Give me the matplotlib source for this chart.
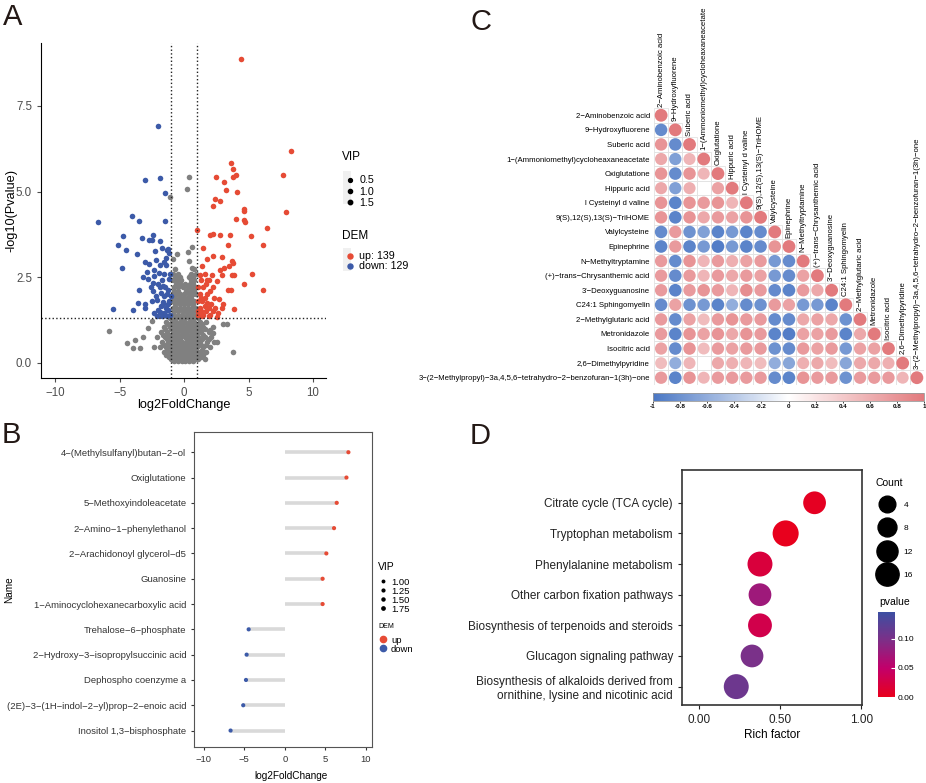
import matplotlib
matplotlib.use('Agg')
import matplotlib.pyplot as plt
import numpy as np
from matplotlib.colors import LinearSegmentedColormap, Normalize
from matplotlib.lines import Line2D
from matplotlib.patches import Rectangle
import matplotlib.cm as cm

plt.rcParams['font.family'] = ['Liberation Sans', 'DejaVu Sans']

W, H = 926, 783
RED = '#E64B35'
BLUE = '#3C5AA8'
GREY = '#808080'

# ---------------- A: volcano data (log2FC, -log10 p) ----------------
up_pts = [
    (4.43, 8.87), (8.27, 6.19), (7.63, 5.49), (7.86, 4.40), (6.39, 3.92), (6.13, 3.44), (5.25, 2.58),
    (6.13, 2.13), (5.15, 3.70), (3.65, 5.84), (3.81, 5.65), (4.01, 5.48), (3.81, 5.43), (2.46, 5.41),
    (3.06, 5.29), (3.21, 5.03), (4.12, 4.98), (2.39, 4.77), (2.75, 4.71), (2.21, 4.58), (4.63, 4.50),
    (4.63, 4.42), (4.04, 4.21), (4.63, 4.17), (4.71, 4.10), (1.00, 3.87), (2.03, 3.73), (2.26, 3.76),
    (2.75, 3.72), (3.52, 3.72), (3.42, 3.43), (1.46, 3.35), (4.63, 2.31), (2.93, 3.10), (2.26, 3.12),
    (1.74, 3.04), (3.73, 2.98), (3.81, 2.90), (3.45, 2.83), (3.08, 2.76), (2.75, 2.71), (3.89, 2.55),
    (3.68, 2.55), (2.95, 2.55), (2.15, 2.57), (1.38, 2.81), (1.20, 2.55), (2.52, 2.39), (1.74, 2.42),
    (3.39, 2.11), (3.63, 2.11), (2.70, 1.85), (3.03, 1.70), (3.83, 1.58), (2.52, 1.34),
    (1.10, 1.40), (1.20, 1.60), (1.30, 1.50), (1.40, 1.80), (1.50, 1.40), (1.60, 1.90), (1.70, 1.50),
    (1.80, 2.00), (1.90, 1.60), (2.00, 1.40), (2.10, 1.70), (2.20, 1.50), (1.20, 2.00), (1.30, 1.90),
    (1.50, 2.20), (1.70, 2.30), (2.30, 1.90), (1.10, 1.80), (1.40, 1.35), (1.90, 1.35), (2.40, 1.60),
    (1.60, 1.65), (1.05, 1.50), (1.80, 1.75), (2.00, 2.10), (1.30, 2.40), (1.60, 2.60), (1.90, 2.40),
    (2.60, 1.45), (2.90, 1.60), (1.05, 2.20), (2.20, 2.20),
]
down_pts = [
    (-2.00, 6.91), (-1.87, 5.40), (-3.03, 5.33), (-1.51, 4.95), (-4.06, 4.29), (-6.65, 4.10),
    (-3.47, 4.14), (-1.46, 4.13), (-4.71, 3.69), (-5.12, 3.45), (-4.48, 3.29), (-3.65, 3.18),
    (-3.24, 3.63), (-4.79, 2.77), (-5.54, 1.58), (-3.94, 1.54), (-3.57, 1.75), (-3.47, 2.11),
    (-3.01, 1.71), (-3.01, 1.60), (-2.41, 3.73), (-2.70, 3.58), (-2.52, 3.58), (-1.87, 3.56),
    (-1.23, 3.31), (-1.72, 3.34), (-2.26, 3.27), (-3.06, 2.93), (-2.72, 2.87), (-2.15, 2.99),
    (-1.43, 3.05), (-3.19, 2.51), (-2.90, 2.64), (-2.31, 2.54), (-1.95, 2.61), (-1.54, 2.58),
    (-2.44, 2.32), (-2.03, 2.31), (-1.61, 2.24), (-1.28, 2.12), (-2.41, 2.09), (-1.79, 2.03),
    (-2.52, 1.80), (-2.10, 1.83), (-1.64, 1.78), (-1.28, 1.72), (-2.34, 1.44), (-1.87, 1.49),
    (-1.51, 1.39), (-1.23, 1.54),
    (-1.10, 1.40), (-1.20, 1.80), (-1.30, 2.00), (-1.40, 1.60), (-1.50, 2.20), (-1.60, 1.45),
    (-1.70, 2.40), (-1.80, 1.65), (-1.90, 2.20), (-2.00, 1.55), (-2.20, 1.95), (-2.30, 2.70),
    (-1.10, 2.60), (-1.20, 2.45), (-1.40, 2.85), (-1.60, 2.95), (-1.05, 1.95), (-1.35, 1.35),
    (-1.75, 1.35), (-2.10, 1.35), (-1.15, 3.20), (-1.30, 3.30), (-2.60, 2.20), (-2.80, 2.45),
    (-1.90, 2.85), (-1.55, 1.95), (-1.25, 1.55), (-1.65, 1.70),
]
ns_pts = [
    (0.40, 5.42), (0.19, 5.08), (-1.07, 4.83), (0.61, 3.39), (0.27, 3.24), (-0.58, 3.18), (-0.89, 3.04),
    (0.40, 2.97), (0.61, 2.76), (0.48, 2.53), (0.71, 2.43), (-5.85, 0.91), (-4.45, 0.58), (-3.81, 0.66),
    (-3.94, 0.42), (-3.42, 0.42), (-2.80, 1.00), (-2.52, 1.23), (-2.36, 0.47), (-2.13, 0.76), (3.78, 0.32),
    (2.98, 1.13), (3.29, 1.13), (2.52, 0.61), (1.64, 0.11), (2.00, 0.95), (2.26, 0.86), (-3.16, 0.74),
    (-0.8, 0.05), (-0.5, 0.05), (-0.2, 0.05), (0.1, 0.05), (0.4, 0.05), (0.7, 0.05),
    (-1.2, 0.15), (-0.9, 0.15), (-0.6, 0.15), (-0.3, 0.15), (0.0, 0.15), (0.3, 0.15), (0.6, 0.15), (0.9, 0.15), (1.3, 0.15),
    (-1.6, 0.3), (-1.1, 0.3), (-0.7, 0.3), (-0.4, 0.3), (-0.1, 0.3), (0.2, 0.3), (0.5, 0.3), (0.8, 0.3), (1.2, 0.3), (1.7, 0.3),
    (-1.9, 0.45), (-1.4, 0.45), (-1.0, 0.45), (-0.6, 0.45), (-0.3, 0.45), (0.0, 0.45), (0.35, 0.45), (0.7, 0.45), (1.0, 0.45), (1.5, 0.45), (2.0, 0.45),
    (-1.7, 0.6), (-1.25, 0.6), (-0.85, 0.6), (-0.5, 0.6), (-0.15, 0.6), (0.15, 0.6), (0.5, 0.6), (0.85, 0.6), (1.25, 0.6), (1.8, 0.6), (2.3, 0.6),
    (-1.5, 0.75), (-1.05, 0.75), (-0.7, 0.75), (-0.35, 0.75), (0.05, 0.75), (0.4, 0.75), (0.75, 0.75), (1.1, 0.75), (1.6, 0.75), (2.1, 0.75),
    (-1.8, 0.9), (-1.3, 0.9), (-0.9, 0.9), (-0.55, 0.9), (-0.2, 0.9), (0.15, 0.9), (0.55, 0.9), (0.9, 0.9), (1.3, 0.9), (1.9, 0.9),
    (-1.6, 1.05), (-1.1, 1.05), (-0.75, 1.05), (-0.4, 1.05), (-0.05, 1.05), (0.3, 1.05), (0.65, 1.05), (1.05, 1.05), (1.5, 1.05), (2.2, 1.05),
    (-1.4, 1.2), (-0.95, 1.2), (-0.6, 1.2), (-0.25, 1.2), (0.1, 1.2), (0.45, 1.2), (0.8, 1.2), (1.2, 1.2), (1.7, 1.2),
    (-0.85, 1.4), (-0.5, 1.4), (-0.15, 1.4), (0.2, 1.4), (0.55, 1.4), (0.85, 1.4),
    (-0.9, 1.6), (-0.6, 1.6), (-0.3, 1.6), (0.0, 1.6), (0.3, 1.6), (0.6, 1.6), (0.9, 1.6),
    (-0.85, 1.8), (-0.5, 1.8), (-0.2, 1.8), (0.15, 1.8), (0.45, 1.8), (0.8, 1.8),
    (-0.9, 2.0), (-0.6, 2.0), (-0.3, 2.0), (0.0, 2.0), (0.35, 2.0), (0.7, 2.0), (0.9, 2.0),
    (-0.8, 2.2), (-0.45, 2.2), (-0.1, 2.2), (0.3, 2.2), (0.6, 2.2), (0.85, 2.2),
    (-0.9, 2.4), (-0.55, 2.4), (-0.25, 2.4), (0.5, 2.4), (0.8, 2.4),
    (-0.85, 2.6), (-0.5, 2.6), (0.55, 2.6), (0.9, 2.6), (-0.7, 2.75), (0.75, 2.75),
    (-1.0, 0.1), (-0.65, 0.1), (-0.35, 0.1), (-0.05, 0.1), (0.25, 0.1), (0.55, 0.1), (0.85, 0.1), (1.1, 0.1),
    (-1.4, 0.22), (-1.0, 0.22), (-0.75, 0.22), (-0.45, 0.22), (-0.15, 0.22), (0.15, 0.22), (0.45, 0.22), (0.7, 0.22), (1.0, 0.22), (1.5, 0.22),
    (-1.3, 0.38), (-0.85, 0.38), (-0.55, 0.38), (-0.25, 0.38), (0.05, 0.38), (0.35, 0.38), (0.65, 0.38), (0.95, 0.38), (1.4, 0.38),
    (-1.55, 0.52), (-1.15, 0.52), (-0.8, 0.52), (-0.45, 0.52), (-0.1, 0.52), (0.2, 0.52), (0.55, 0.52), (0.9, 0.52), (1.3, 0.52), (1.7, 0.52),
    (-1.35, 0.68), (-0.95, 0.68), (-0.6, 0.68), (-0.3, 0.68), (0.3, 0.68), (0.6, 0.68), (0.95, 0.68), (1.4, 0.68), (1.95, 0.68),
    (-1.65, 0.82), (-1.2, 0.82), (-0.8, 0.82), (-0.5, 0.82), (-0.1, 0.82), (0.25, 0.82), (0.6, 0.82), (1.0, 0.82), (1.45, 0.82),
    (-1.45, 0.98), (-1.0, 0.98), (-0.65, 0.98), (-0.35, 0.98), (0.0, 0.98), (0.4, 0.98), (0.75, 0.98), (1.15, 0.98), (1.65, 0.98),
    (-1.25, 1.12), (-0.85, 1.12), (-0.5, 1.12), (-0.15, 1.12), (0.2, 1.12), (0.55, 1.12), (0.9, 1.12), (1.35, 1.12),
    (-1.1, 1.3), (-0.7, 1.3), (-0.35, 1.3), (0.0, 1.3), (0.35, 1.3), (0.7, 1.3), (1.05, 1.3),
    (-0.75, 1.5), (-0.45, 1.5), (-0.1, 1.5), (0.15, 1.5), (0.45, 1.5), (0.75, 1.5),
    (-0.7, 1.7), (-0.35, 1.7), (0.0, 1.7), (0.3, 1.7), (0.65, 1.7),
    (-0.75, 1.9), (-0.4, 1.9), (-0.05, 1.9), (0.25, 1.9), (0.55, 1.9),
    (-0.75, 2.1), (-0.45, 2.1), (0.15, 2.1), (0.5, 2.1), (0.8, 2.1),
    (-0.65, 2.3), (-0.3, 2.3), (0.1, 2.3), (0.45, 2.3), (0.7, 2.3),
    (-0.7, 2.5), (-0.35, 2.5), (0.35, 2.5), (0.7, 2.5),
]

# ---------------- B: top metabolites ----------------
b_names = ['4−(Methylsulfanyl)butan−2−ol', 'Oxiglutatione', '5−Methoxyindoleacetate',
           '2−Amino−1−phenylethanol', '2−Arachidonoyl glycerol−d5', 'Guanosine',
           '1−Aminocyclohexanecarboxylic acid', 'Trehalose−6−phosphate',
           '2−Hydroxy−3−isopropylsuccinic acid', 'Dephospho coenzyme a',
           '(2E)−3−(1H−indol−2−yl)prop−2−enoic acid', 'Inositol 1,3−bisphosphate']
b_fc = [7.84, 7.60, 6.40, 6.07, 5.12, 4.66, 4.66, -4.46, -4.71, -4.79, -5.13, -6.69]

# ---------------- C: correlation matrix ----------------
c_names = ['2−Aminobenzoic acid', '9−Hydroxyfluorene', 'Suberic acid',
           '1−(Ammoniomethyl)cycloheaxaneacetate', 'Oxiglutatione', 'Hippuric acid',
           'l Cysteinyl d valine', '9(S),12(S),13(S)−TriHOME', 'Valylcysteine', 'Epinephrine',
           'N−Methyltryptamine', '(+)−trans−Chrysanthemic acid', "3'−Deoxyguanosine",
           'C24:1 Sphingomyelin', '2−Methylglutaric acid', 'Metronidazole', 'Isocitric acid',
           '2,6−Dimethylpyridine',
           '3−(2−Methylpropyl)−3a,4,5,6−tetrahydro−2−benzofuran−1(3h)−one']
corr_rows = [
    [],
    [-0.85],
    [0.80, -0.85],
    [0.65, -0.70, 0.55],
    [0.80, -0.85, 0.80, 0.55],
    [0.65, -0.70, 0.60, 0.00, 0.70],
    [0.80, -0.90, 0.80, 0.75, 0.80, 0.55],
    [0.80, -0.90, 0.80, 0.65, 0.75, 0.70, 0.80],
    [-0.85, 0.75, -0.80, -0.70, -0.90, -0.75, -0.90, -0.85],
    [-0.90, 0.75, -0.90, -0.75, -0.95, -0.75, -0.90, -0.85, 0.80],
    [0.75, -0.85, 0.80, 0.55, 0.75, 0.60, 0.70, 0.75, -0.75, -0.85],
    [0.75, -0.85, 0.75, 0.55, 0.75, 0.65, 0.75, 0.70, -0.75, -0.85, 0.70],
    [0.75, -0.90, 0.75, 0.80, 0.75, 0.55, 0.85, 0.75, -0.85, -0.90, 0.75, 0.65],
    [-0.85, 0.70, -0.80, -0.75, -0.90, -0.60, -0.85, -0.80, 0.75, 0.70, -0.75, -0.75, -0.90],
    [0.75, -0.85, 0.70, 0.50, 0.75, 0.80, 0.75, 0.75, -0.85, -0.85, 0.65, 0.70, 0.65, -0.80],
    [0.75, -0.90, 0.80, 0.70, 0.80, 0.65, 0.80, 0.75, -0.90, -0.95, 0.70, 0.70, 0.75, -0.90, 0.65],
    [0.70, -0.85, 0.80, 0.50, 0.75, 0.70, 0.75, 0.75, -0.80, -0.85, 0.75, 0.70, 0.75, -0.75, 0.70, 0.70],
    [0.50, -0.60, 0.55, 0.00, 0.65, 0.60, 0.55, 0.50, -0.60, -0.65, 0.60, 0.65, 0.50, -0.65, 0.65, 0.65, 0.60],
    [0.75, -0.90, 0.80, 0.55, 0.75, 0.75, 0.75, 0.75, -0.85, -0.90, 0.80, 0.75, 0.75, -0.80, 0.75, 0.75, 0.75, 0.55],
]
corr_ticks = [-1, -0.8, -0.6, -0.4, -0.2, 0, 0.2, 0.4, 0.6, 0.8, 1]

# ---------------- D: KEGG enrichment ----------------
d_paths = ['Citrate cycle (TCA cycle)', 'Tryptophan metabolism', 'Phenylalanine metabolism',
           'Other carbon fixation pathways', 'Biosynthesis of terpenoids and steroids',
           'Glucagon signaling pathway',
           'Biosynthesis of alkaloids derived from\nornithine, lysine and nicotinic acid']
d_rich = [0.713, 0.535, 0.377, 0.377, 0.377, 0.328, 0.231]
d_count = [15, 21, 19, 15, 17, 15, 19]
d_pval = [0.004, 0.001, 0.020, 0.075, 0.030, 0.100, 0.110]
count_breaks = [4, 8, 12, 16]


def count_to_pt(c):
    # marker diameter in points
    return (14.5 + 0.55 * c) * 0.72


def fx(px):
    return px / W


def fy(py):
    return 1 - py / H


fig = plt.figure(figsize=(W / 100, H / 100), dpi=100)

# ======================= A =======================
axA = fig.add_axes([fx(41), fy(378), 285 / W, 335 / H])
ns = np.array(ns_pts)
up = np.array(up_pts)
dn = np.array(down_pts)
axA.scatter(ns[:, 0], ns[:, 1], s=16, c=GREY, lw=0)
axA.scatter(up[:, 0], up[:, 1], s=16, c=RED, lw=0)
axA.scatter(dn[:, 0], dn[:, 1], s=16, c=BLUE, lw=0)
for v in [-1, 1]:
    axA.axvline(v, ls=':', c='#222222', lw=1)
axA.axhline(1.3, ls=':', c='#222222', lw=1)
axA.set_xlim(-11.1, 11.0)
axA.set_ylim(-0.45, 9.34)
axA.set_xticks([-10, -5, 0, 5, 10])
axA.set_yticks([0, 2.5, 5.0, 7.5])
axA.set_yticklabels(['0.0', '2.5', '5.0', '7.5'])
for s in ['top', 'right']:
    axA.spines[s].set_visible(False)
axA.tick_params(labelsize=8.3, colors='#4D4D4D', length=3)
axA.set_xlabel('log2FoldChange', fontsize=9.2)
axA.xaxis.set_label_coords(0.5, -0.063)
axA.set_ylabel('-log10(Pvalue)', fontsize=9.2)
axA.yaxis.set_label_coords(-0.084, 0.5)

# legend key backgrounds (ggplot style), drawn beneath the legends
fig.add_artist(Rectangle((fx(342.5), fy(204)), 8.5 / W, 33 / H, transform=fig.transFigure,
                         fc='#F0F0F0', ec='none', zorder=-1))
fig.add_artist(Rectangle((fx(342.5), fy(271)), 8.5 / W, 23 / H, transform=fig.transFigure,
                         fc='#F0F0F0', ec='none', zorder=-1))
fig.text(fx(342), fy(157), 'VIP', fontsize=8.5, va='center')
fig.text(fx(342), fy(236), 'DEM', fontsize=8.5, va='center')
vipA = [Line2D([], [], marker='o', ls='', color='k', markersize=m) for m in [2.8, 3.0, 3.2]]
legA1 = axA.legend(vipA, ['0.5', '1.0', '1.5'], loc='upper left',
                   bbox_to_anchor=(fx(340), fy(170)), bbox_transform=fig.transFigure,
                   frameon=False, fontsize=7.7, handlelength=0.8, handletextpad=0.5,
                   labelspacing=0.12, borderpad=0)
axA.add_artist(legA1)
demA = [Line2D([], [], marker='o', ls='', color=c, markersize=3.6) for c in [RED, BLUE]]
axA.legend(demA, ['up: 139', 'down: 129'], loc='upper left',
           bbox_to_anchor=(fx(340), fy(246)), bbox_transform=fig.transFigure,
           frameon=False, fontsize=7.7, handlelength=0.8, handletextpad=0.5,
           labelspacing=0.0, borderpad=0)

# ======================= B =======================
axB = fig.add_axes([fx(194), fy(747), 178 / W, 315 / H])
yb = np.arange(len(b_names))[::-1]
b_col = [RED if v > 0 else BLUE for v in b_fc]
axB.hlines(yb, 0, b_fc, color='#D9D9D9', lw=2.6, zorder=1)
axB.scatter(b_fc, yb, s=9, c=b_col, lw=0, zorder=3)
axB.set_xlim(-11.2, 10.75)
axB.set_ylim(-0.65, 11.8)
axB.set_yticks(yb)
axB.set_yticklabels(b_names)
axB.set_xticks([-10, -5, 0, 5, 10])
axB.tick_params(labelsize=6.8, colors='#333333', length=2)
for s in axB.spines.values():
    s.set_color('#555555')
axB.set_xlabel('log2FoldChange', fontsize=7.2)
axB.xaxis.set_label_coords(0.545, -0.075)
axB.set_ylabel('Name', fontsize=7.2)
axB.yaxis.set_label_coords(-1.011, 0.5)

fig.text(fx(378), fy(567), 'VIP', fontsize=7.5, va='center')
fig.text(fx(378), fy(627), 'DEM', fontsize=5, va='center')
vipB = [Line2D([], [], marker='o', ls='', color='k', markersize=m) for m in [1.8, 2.0, 2.2, 2.4]]
legB1 = axB.legend(vipB, ['1.00', '1.25', '1.50', '1.75'], loc='upper left',
                   bbox_to_anchor=(fx(375), fy(573)), bbox_transform=fig.transFigure,
                   frameon=False, fontsize=6.8, handlelength=0.7, handletextpad=0.5,
                   labelspacing=0.0, borderpad=0)
axB.add_artist(legB1)
demB = [Line2D([], [], marker='o', ls='', color=c, markersize=4.5) for c in [RED, BLUE]]
axB.legend(demB, ['up', 'down'], loc='upper left',
           bbox_to_anchor=(fx(375), fy(631)), bbox_transform=fig.transFigure,
           frameon=False, fontsize=6.8, handlelength=0.7, handletextpad=0.5,
           labelspacing=0.0, borderpad=0)

# ======================= C =======================
corr_cmap = LinearSegmentedColormap.from_list('corr', ['#4A77C4', '#FFFFFF', '#E27A7D'])
axC = fig.add_axes([fx(654), fy(385), 270 / W, 277 / H])
n = len(c_names)
cx, cy, cv = [], [], []
for i in range(n):
    vals = corr_rows[i] + [1.0]
    for j, v in enumerate(vals):
        axC.add_patch(Rectangle((j - 0.5, i - 0.5), 1, 1, fc='none', ec='#E3E3E3', lw=0.6))
        if v != 0:
            cx.append(j)
            cy.append(i)
            cv.append(v)
cv = np.array(cv)
sizes = (12.8 * (0.86 + 0.14 * np.abs(cv)) * 0.72) ** 2
axC.scatter(cx, cy, s=sizes, c=cv, cmap=corr_cmap, vmin=-1, vmax=1, lw=0, zorder=3)
axC.set_xlim(-0.5, n - 0.5)
axC.set_ylim(n - 0.5, -0.5)
axC.set_yticks(range(n))
axC.set_yticklabels(c_names)
axC.set_xticks([])
axC.tick_params(axis='y', length=0, labelsize=5.6, pad=3)
for s in axC.spines.values():
    s.set_visible(False)
for j in range(n):
    axC.text(j, j - 0.6, c_names[j], rotation=90, ha='center', va='bottom', fontsize=5.6)

caxC = fig.add_axes([fx(653), fy(401), 271 / W, 8 / H])
cbC = fig.colorbar(cm.ScalarMappable(norm=Normalize(-1, 1), cmap=corr_cmap), cax=caxC,
                   orientation='horizontal')
cbC.set_ticks(corr_ticks)
cbC.set_ticklabels([f'{t:g}' for t in corr_ticks])
cbC.ax.tick_params(labelsize=4.5, length=1.5, pad=1, width=0.5)
for lab in cbC.ax.get_xticklabels():
    lab.set_fontweight('bold')
cbC.outline.set_edgecolor('#999999')
cbC.outline.set_linewidth(0.6)

# ======================= D =======================
p_cmap = LinearSegmentedColormap.from_list(
    'pv', [(0, '#E8001C'), (0.34, '#C2006B'), (0.68, '#7B3088'), (1, '#3C4FA2')])
p_norm = Normalize(0, 0.146)
axD = fig.add_axes([fx(682), fy(705), 180 / W, 235 / H])
yd = np.arange(len(d_paths))[::-1]
axD.scatter(d_rich, yd, s=[count_to_pt(c) ** 2 for c in d_count], c=d_pval,
            cmap=p_cmap, norm=p_norm, lw=0, zorder=3)
axD.set_xlim(-0.103, 1.005)
axD.set_ylim(-0.6, 7.07)
axD.set_yticks(yd)
axD.set_yticklabels(d_paths)
axD.set_xticks([0, 0.5, 1.0])
axD.set_xticklabels(['0.00', '0.50', '1.00'])
axD.tick_params(labelsize=8.5, colors='#222222', length=3)
for s in axD.spines.values():
    s.set_color('#333333')
    s.set_linewidth(1.2)
axD.set_xlabel('Rich factor', fontsize=8.5, labelpad=2)

fig.text(fx(875), fy(483), 'Count', fontsize=7.5, va='center')
cnt_h = [Line2D([], [], marker='o', ls='', color='k', markersize=count_to_pt(c)) for c in count_breaks]
axD.legend(cnt_h, [str(c) for c in count_breaks], loc='upper left',
           bbox_to_anchor=(fx(877), fy(497)), bbox_transform=fig.transFigure,
           frameon=False, fontsize=6, handlelength=1.3, handletextpad=1.4,
           labelspacing=1.85, borderpad=0)

caxD = fig.add_axes([fx(878), fy(697), 17 / W, 85 / H])
cbD = fig.colorbar(cm.ScalarMappable(norm=p_norm, cmap=p_cmap), cax=caxD)
cbD.set_ticks([0, 0.05, 0.10])
cbD.set_ticklabels(['0.00', '0.05', '0.10'])
cbD.ax.tick_params(labelsize=6, direction='in', color='white', length=3, pad=2)
cbD.outline.set_visible(False)
fig.text(fx(879), fy(602), 'pvalue', fontsize=7.5, va='center')

# panel letters
for lab, x, y in [('A', 3, 17), ('B', 2, 435), ('C', 470, 22), ('D', 470, 436)]:
    fig.text(fx(x), fy(y), lab, fontsize=21, va='center', color='#231815')

fig.savefig('out.png', dpi=100)
